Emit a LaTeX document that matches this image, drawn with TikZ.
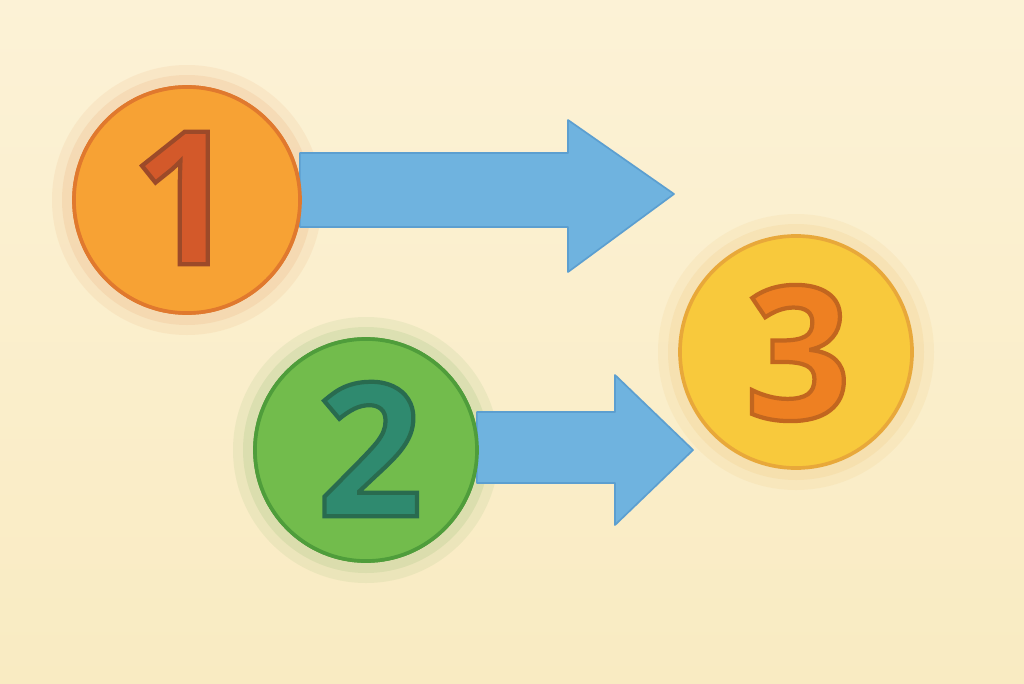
\documentclass[tikz,border=0pt]{standalone}
\usepackage{fontspec}
\setmainfont{Open Sans}
\usetikzlibrary{calc}
\definecolor{bgtop}{HTML}{FCF2D6}
\definecolor{bgbot}{HTML}{F9EBC2}
\definecolor{arrowblue}{HTML}{6FB3DF}
\definecolor{arrowedge}{HTML}{5C9FD0}
\definecolor{orfill}{HTML}{F7A234}
\definecolor{oredge}{HTML}{E0792E}
\definecolor{onefill}{HTML}{D3592A}
\definecolor{grfill}{HTML}{72BC4C}
\definecolor{gredge}{HTML}{4F9D3B}
\definecolor{twofill}{HTML}{2F8A6F}
\definecolor{yefill}{HTML}{F8C93C}
\definecolor{yeedge}{HTML}{E8A83A}
\definecolor{threefill}{HTML}{EE8022}
\newcommand{\outlined}[2]{\special{pdf:code 2 Tr 3 w #1 RG}#2\special{pdf:code 0 Tr}}
\tikzset{
  disc/.style={circle, inner sep=0pt, line width=2.6pt},
  digit/.style={inner sep=0pt, font=\fontsize{132}{132}\selectfont\bfseries},
  blockarrow/.style={fill=arrowblue, draw=arrowedge, line width=1.2pt, line join=round},
}
\begin{document}
\begin{tikzpicture}[x=0.025cm, y=-0.025cm]
\useasboundingbox (0,0) rectangle (1024,683);
\shade[top color=bgtop, bottom color=bgbot] (0,0) rectangle (1024,683);
% glows
\foreach \cx/\cy/\r/\col in {187/200/113/oredge, 366/450/111/gredge, 796/352/116/yeedge}{
  \fill[\col, opacity=0.08] (\cx,\cy) circle (\r+22);
  \fill[\col, opacity=0.10] (\cx,\cy) circle (\r+12);
}
% circles
\node[disc, fill=orfill, draw=oredge, minimum size=5.65cm] (c1) at (187,200) {};
\node[disc, fill=grfill, draw=gredge, minimum size=5.55cm] (c2) at (366,450) {};
\node[disc, fill=yefill, draw=yeedge, minimum size=5.8cm] (c3) at (796,352) {};
% arrows
\coordinate (a1s) at (c1.east);
\coordinate (a1t) at (674,194);
\fill[blockarrow] ($(a1s)+(-2,-47)$) -- (568,153) -- (568,120) -- (a1t) -- (568,272) -- (568,227) -- ($(a1s)+(-2,27)$) -- cycle;
\coordinate (a2s) at (c2.east);
\coordinate (a2t) at (693,450);
\fill[blockarrow] ($(a2s)+(-2,-38)$) -- (615,412) -- (615,375) -- (a2t) -- (615,525) -- (615,483) -- ($(a2s)+(-2,33)$) -- cycle;
% redraw circles over arrow start
\node[disc, fill=orfill, draw=oredge, minimum size=5.65cm] (c1b) at (c1) {};
\node[disc, fill=grfill, draw=gredge, minimum size=5.55cm] (c2b) at (c2) {};
% digits
\node[digit, text=onefill] (d1) at (184,198) {\outlined{0.61 0.29 0.16}{1}};
\node[digit, text=twofill] (d2) at (370,449) {\outlined{0.16 0.42 0.31}{2}};
\node[digit, text=threefill] (d3) at (798,353) {\outlined{0.76 0.40 0.12}{3}};
\end{tikzpicture}
\end{document}
